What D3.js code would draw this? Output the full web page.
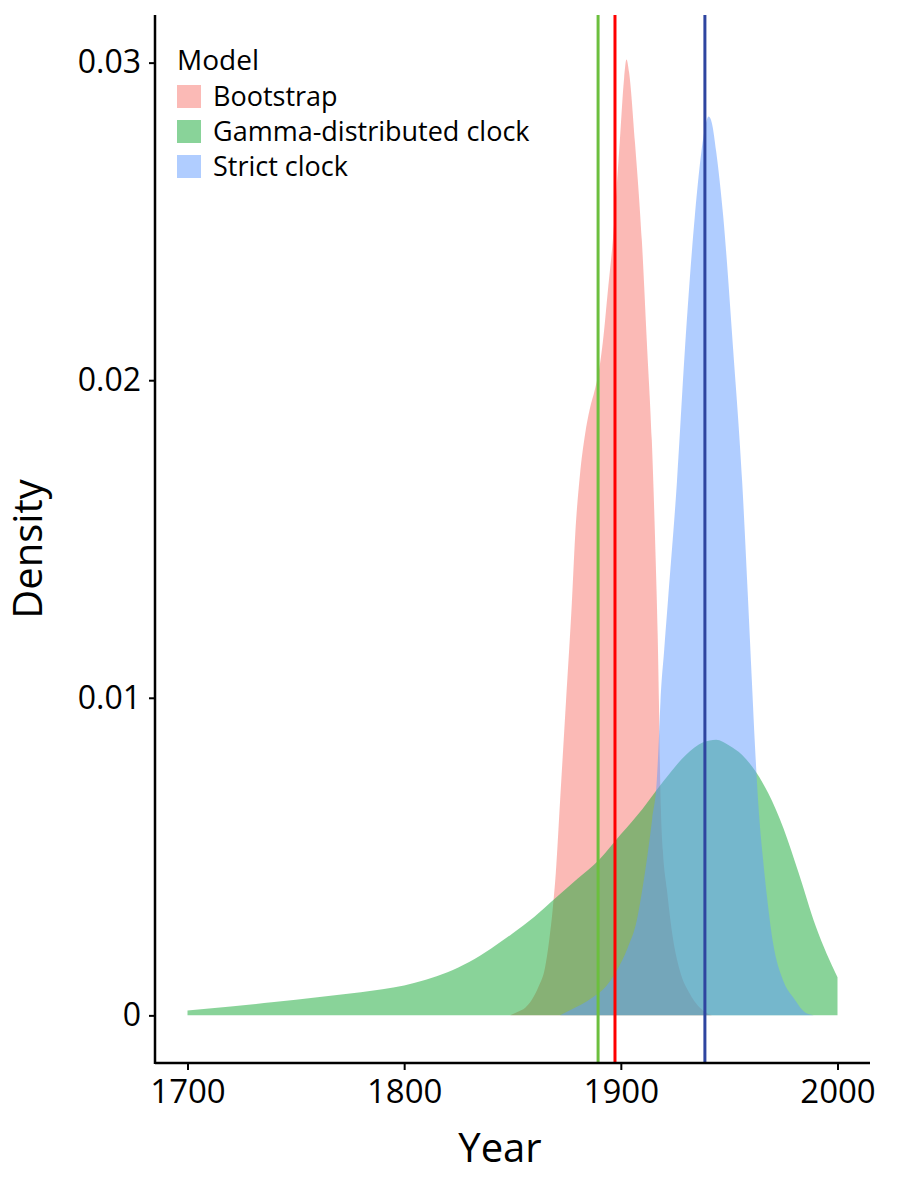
<!DOCTYPE html>
<html>
<head>
<meta charset="utf-8">
<script src="https://cdn.jsdelivr.net/npm/d3@7"></script>
<style>
  html, body { margin: 0; padding: 0; background: #ffffff; }
  svg { display: block; font-family: "Open Sans", sans-serif; }
</style>
</head>
<body>
<svg id="chart" width="900" height="1187"></svg>
<script>
// ---- data ----
const models = ["Bootstrap", "Gamma-distributed clock", "Strict clock"];
const modelColors = ["#F8766D", "#14A834", "#619CFF"];

const bootstrapYears = [1849, 1852, 1856, 1859, 1862, 1865, 1867, 1868.5, 1870, 1872, 1874.7, 1877.4, 1879, 1881.1, 1883.5, 1885.7, 1888, 1889.9, 1891.7, 1894, 1896.3, 1899.5, 1901.5, 1902.6, 1903.8, 1906.5, 1909.7, 1912.0, 1914.3, 1916.1, 1917.0, 1917.6, 1918.0, 1918.5, 1919.4, 1921.2, 1924.0, 1927.2, 1931.8, 1937.8, 1942];
const bootstrapDensity = [0, 0.0001, 0.00025, 0.0005, 0.0009, 0.0015, 0.0024, 0.0033, 0.0045, 0.0068, 0.0099, 0.0130, 0.0152, 0.0170, 0.0183, 0.0191, 0.0197, 0.0203, 0.0212, 0.0228, 0.0244, 0.0275, 0.0295, 0.0301, 0.0297, 0.0275, 0.0244, 0.0212, 0.0181, 0.0143, 0.0120, 0.0098, 0.0080, 0.0065, 0.0052, 0.0040, 0.00245, 0.00142, 0.00069, 0.00016, 0];

const gammaYears = [1700, 1720, 1740, 1760, 1780, 1790, 1800, 1810, 1820, 1830, 1840, 1850, 1860, 1870, 1880, 1890, 1900, 1910, 1920, 1930, 1938, 1944, 1950, 1956, 1962, 1968, 1975, 1982, 1990, 2000];
const gammaDensity = [0.00015, 0.00028, 0.00042, 0.00057, 0.00073, 0.00082, 0.00094, 0.00112, 0.00136, 0.00168, 0.0021, 0.00258, 0.0031, 0.0037, 0.0043, 0.0049, 0.0057, 0.0065, 0.0074, 0.0082, 0.0086, 0.00868, 0.0085, 0.0082, 0.0077, 0.0070, 0.0059, 0.0045, 0.0028, 0.0012];

const strictYears = [1872, 1876.5, 1882, 1887.1, 1893, 1898.2, 1903, 1907.4, 1910, 1912.4, 1914.5, 1916.6, 1917.5, 1918.3, 1920, 1921.8, 1925.9, 1929.6, 1934.2, 1937.2, 1939, 1940.5, 1942, 1944, 1947.2, 1951.8, 1956.0, 1958.7, 1960.5, 1961.9, 1963.5, 1965.5, 1967.5, 1970.2, 1974.9, 1979.5, 1985.9, 1990];
const strictDensity = [0, 0.00016, 0.00035, 0.00057, 0.0009, 0.00142, 0.0021, 0.0030, 0.0040, 0.0051, 0.0062, 0.0074, 0.0086, 0.0099, 0.0115, 0.0131, 0.0168, 0.0210, 0.0252, 0.0272, 0.0280, 0.0283, 0.0281, 0.0272, 0.0252, 0.0210, 0.0168, 0.0131, 0.0105, 0.0085, 0.0066, 0.0050, 0.0037, 0.0023, 0.0011, 0.00057, 0.00006, 0];

const vlineYears = [1889.5, 1897.3, 1938.8];
const vlineColors = ["#6CBF3E", "#FF0000", "#2E45A0"];

const xTicks = [1700, 1800, 1900, 2000];
const yTicks = [0, 0.01, 0.02, 0.03];
const yTickLabels = ["0", "0.01", "0.02", "0.03"];

// ---- layout ----
const svg = d3.select("#chart");
const panel = { left: 155, right: 870, top: 15, bottom: 1063 };

const x = d3.scaleLinear().domain([1685, 2015]).range([panel.left, panel.right]);
const y = d3.scaleLinear().domain([-0.0015, 0.0315]).range([panel.bottom, panel.top]);

const series = [
  { name: models[0], color: modelColors[0], years: bootstrapYears, dens: bootstrapDensity },
  { name: models[1], color: modelColors[1], years: gammaYears, dens: gammaDensity },
  { name: models[2], color: modelColors[2], years: strictYears, dens: strictDensity }
];

const area = d3.area()
  .x(d => x(d[0]))
  .y0(y(0))
  .y1(d => y(d[1]))
  .curve(d3.curveMonotoneX);

svg.append("g").selectAll("path")
  .data(series)
  .join("path")
  .attr("d", s => area(s.years.map((yr, i) => [yr, s.dens[i]])))
  .attr("fill", s => s.color)
  .attr("fill-opacity", 0.5)
  .attr("stroke", "none");

// vertical lines
svg.append("g").selectAll("line")
  .data(vlineYears)
  .join("line")
  .attr("x1", d => x(d)).attr("x2", d => x(d))
  .attr("y1", panel.top).attr("y2", panel.bottom)
  .attr("stroke", (d, i) => vlineColors[i])
  .attr("stroke-width", 3);

// axes
const xAxis = d3.axisBottom(x).tickValues(xTicks).tickFormat(d3.format("d")).tickSizeOuter(0).tickSize(7).tickPadding(10);
const gx = svg.append("g").attr("transform", `translate(0,${panel.bottom})`).call(xAxis);
gx.select(".domain").attr("stroke", "#000").attr("stroke-width", 2.5);
gx.selectAll(".tick line").attr("stroke", "#000").attr("stroke-width", 2);
gx.selectAll(".tick text").attr("font-size", 33).attr("font-family", "'Open Sans', sans-serif").attr("fill", "#000");
gx.select(".domain").attr("d", `M${panel.left},0H${panel.right}`);

const yAxis = d3.axisLeft(y).tickValues(yTicks).tickFormat((d, i) => yTickLabels[i]).tickSizeOuter(0).tickSize(6).tickPadding(8);
const gy = svg.append("g").attr("transform", `translate(${panel.left},0)`).call(yAxis);
gy.select(".domain").attr("stroke", "#000").attr("stroke-width", 2.5);
gy.select(".domain").attr("d", `M0,${panel.top}V${panel.bottom + 1}`);
gy.selectAll(".tick line").attr("stroke", "#000").attr("stroke-width", 2);
gy.selectAll(".tick text").attr("font-size", 32).attr("font-family", "'Open Sans', sans-serif").attr("fill", "#000");

// axis titles
svg.append("text")
  .attr("x", 500).attr("y", 1162)
  .attr("text-anchor", "middle")
  .attr("font-size", 40)
  .attr("fill", "#000")
  .text("Year");

svg.append("text")
  .attr("transform", "translate(42,549) rotate(-90)")
  .attr("text-anchor", "middle")
  .attr("font-size", 40)
  .attr("fill", "#000")
  .text("Density");

// legend
const legend = svg.append("g").attr("transform", "translate(177,0)");
legend.append("text")
  .attr("x", 0).attr("y", 70)
  .attr("font-size", 28)
  .attr("fill", "#000")
  .text("Model");

const items = legend.selectAll("g.item")
  .data(series)
  .join("g")
  .attr("class", "item")
  .attr("transform", (d, i) => `translate(0,${85 + i * 35})`);
items.append("rect")
  .attr("width", 24).attr("height", 23)
  .attr("fill", d => d.color)
  .attr("fill-opacity", 0.5);
items.append("text")
  .attr("x", 36).attr("y", 21)
  .attr("font-size", 27)
  .attr("fill", "#000")
  .text(d => d.name);
</script>
</body>
</html>
